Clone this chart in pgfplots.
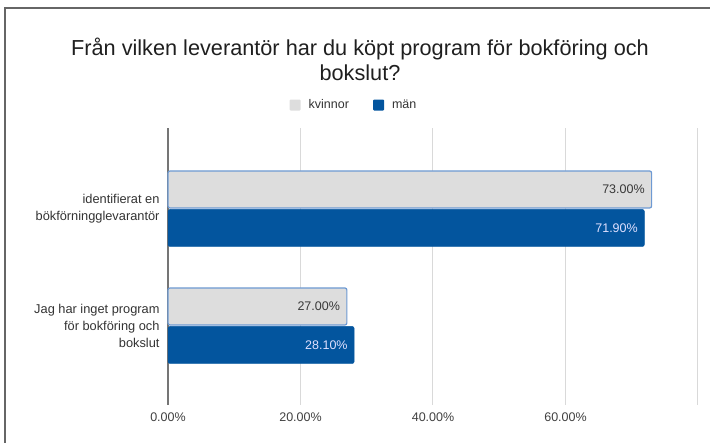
\documentclass[border=0pt]{standalone}
\usepackage{pgfplots}
\pgfplotsset{compat=1.18}
\usepackage{fontspec}
\setmainfont{Liberation Sans}
\definecolor{kvgray}{HTML}{DDDDDD}
\definecolor{kvedge}{HTML}{6E9AD3}
\definecolor{manblue}{HTML}{03559E}
\definecolor{gridgray}{HTML}{D9D9D9}
\definecolor{framegray}{HTML}{666666}
\begin{document}
\begin{tikzpicture}[x=1pt,y=1pt]
\useasboundingbox (0,0) rectangle (710,443);
% frame
\draw[framegray, line width=1.8pt] (5,-2) -- (5,435) -- (712,435);
% title
\node[align=center, text=black!88, font=\fontsize{21.7}{25}\selectfont] at (360,443-59.5)
  {Från vilken leverantör har du köpt program för bokföring och\\bokslut?};
\begin{axis}[
  at={(168pt,38pt)}, anchor=south west,
  scale only axis, width=530pt, height=277pt,
  xmin=0, xmax=80, ymin=-0.6752, ymax=1.6923,
  xbar, bar width=37pt,
  axis line style={draw=none},
  major tick length=0pt,
  xtick={0,20,40,60,80},
  xticklabels={0.00\%,20.00\%,40.00\%,60.00\%,},
  xmajorgrids, grid style={gridgray, line width=1pt},
  extra x ticks={0}, extra x tick labels={},
  extra x tick style={grid style={framegray!90, line width=1.3pt}},
  ytick={0,1},
  yticklabels={{Jag har inget program\\för bokföring och\\bokslut},{identifierat en\\bökförningglevarantör}},
  yticklabel style={align=right, font=\fontsize{12.8}{17}\selectfont, text=black!80, xshift=-5pt},
  xticklabel style={font=\fontsize{12.5}{15}\selectfont, text=black!75, yshift=-4pt},
  /pgf/number format/assume math mode=true,
  point meta=x,
  nodes near coords={\pgfmathprintnumber[fixed,fixed zerofill,precision=2]{\pgfplotspointmeta}\%},
  every node near coord/.append style={anchor=east, xshift=-3pt, font=\fontsize{12.5}{15}\selectfont},
  legend columns=2,
  legend style={at={(0.351,1.083)}, anchor=center, draw=none, fill=none,
    font=\fontsize{12.5}{14}\selectfont, text=black!80,
    /tikz/every odd column/.append style={column sep=6pt},
    /tikz/every even column/.append style={column sep=22pt}},
  legend image code/.code={\path[#1,draw=none,rounded corners=1pt] (0pt,-5.5pt) rectangle (11pt,5.5pt);},
  clip=false,
]
\addplot[fill=kvgray, draw=kvedge, line width=1.2pt, rounded corners=2pt, bar shift=19.5pt,
  nodes near coords style={text=black!78}]
  coordinates {(27,0) (73,1)};
\addlegendentry{kvinnor}
\addplot[fill=manblue, draw=manblue, line width=0.5pt, rounded corners=2pt, bar shift=-19pt,
  nodes near coords style={text=white!88!blue}]
  coordinates {(28.1,0) (71.9,1)};
\addlegendentry{män}
\end{axis}
\end{tikzpicture}
\end{document}
